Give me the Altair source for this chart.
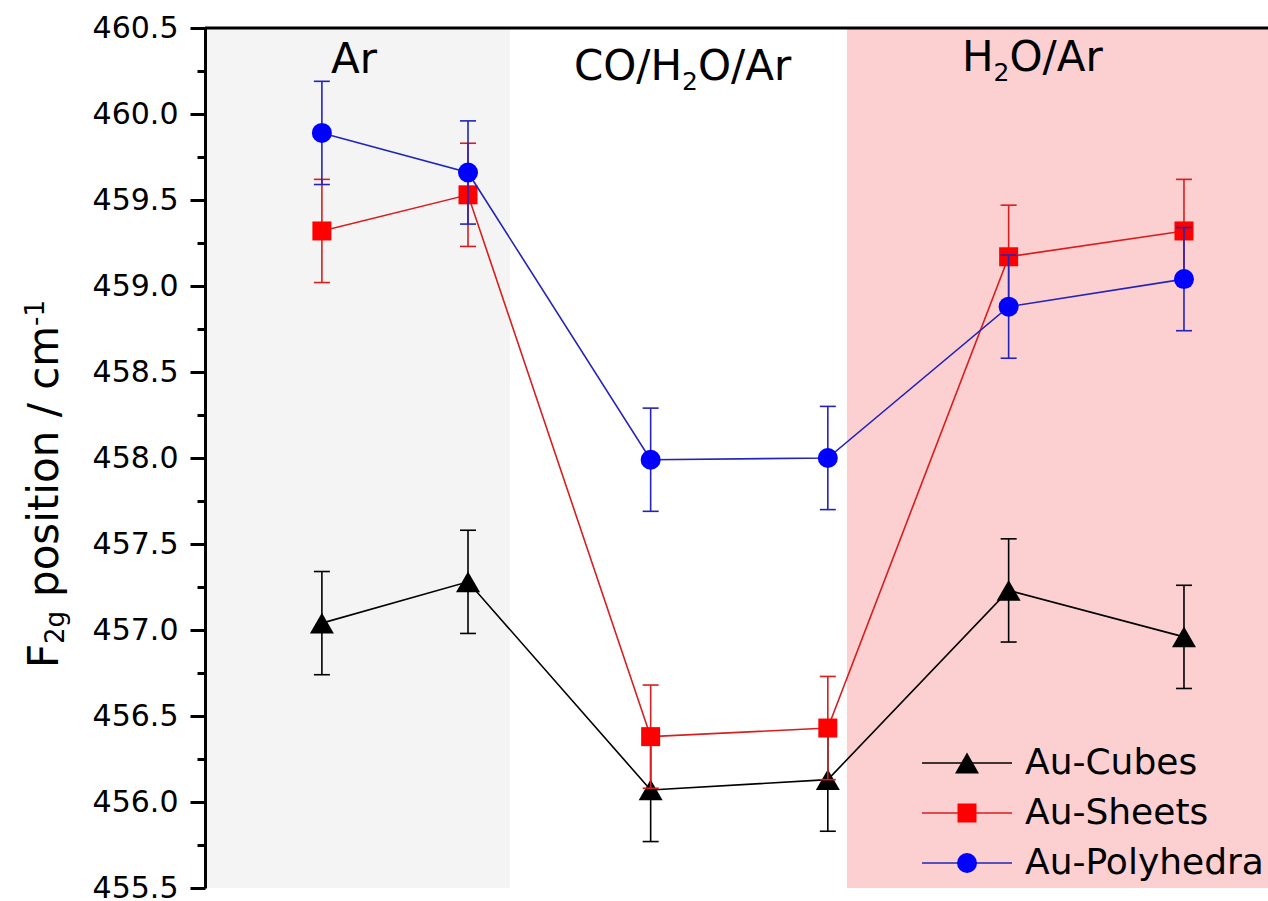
import altair as alt
import pandas as pd

# ---------------- data ----------------
x_pos = [1.0, 1.8, 2.8, 3.77, 4.76, 5.72]
cubes = [457.04, 457.28, 456.07, 456.13, 457.23, 456.96]
cubes_err = [0.30, 0.30, 0.30, 0.30, 0.30, 0.30]
sheets = [459.32, 459.53, 456.38, 456.43, 459.17, 459.32]
sheets_err = [0.30, 0.30, 0.30, 0.30, 0.30, 0.30]
poly = [459.89, 459.66, 457.99, 458.00, 458.88, 459.04]
poly_err = [0.30, 0.30, 0.30, 0.30, 0.30, 0.30]
series_names = ["Au-Cubes", "Au-Sheets", "Au-Polyhedra"]

region_names = ["Ar", "CO/H2O/Ar", "H2O/Ar"]
region_start = [0.36, 2.03, 3.875]
region_end = [2.03, 3.875, 6.18]
region_label_x = [1.176, 2.977, 4.888]
region_label_y = [460.24, 460.20, 460.25]

x_domain = [0.36, 6.18]
y_domain = [455.5, 460.5]
y_major = [455.5, 456.0, 456.5, 457.0, 457.5, 458.0, 458.5, 459.0, 459.5, 460.0, 460.5]
y_minor = [455.75, 456.25, 456.75, 457.25, 457.75, 458.25, 458.75, 459.25, 459.75, 460.25]

# ---------------- style / layout ----------------
FONT = "DejaVu Sans"
W, H = 1063, 860
marker_colors = ["#000000", "#ff0000", "#0000ff"]
line_colors = ["#000000", "#d81e1e", "#2424b8"]
shapes = ["triangle-up", "square", "circle"]
msizes = [576, 361, 400]
region_fill = ["#f4f4f4", "#ffffff", "#fccfd0"]

xs = alt.Scale(domain=x_domain, nice=False, zero=False)
ys = alt.Scale(domain=y_domain, nice=False, zero=False)

x_axis = alt.Axis(title=None, labels=False, ticks=False, grid=False, domain=True,
                  domainColor="black", domainWidth=3, zindex=1)
y_axis_major = alt.Axis(values=y_major, format=".1f", orient="left", title=None, grid=False,
                        tickSize=15, tickWidth=3, tickColor="black", domainWidth=3,
                        domainColor="black", labelFont=FONT, labelFontSize=30,
                        labelColor="black", labelPadding=12, labelFlush=False,
                        labelOverlap=False, zindex=1)
y_axis_minor = alt.Axis(values=y_minor, orient="left", title=None, grid=False, labels=False,
                        domain=False, tickSize=8, tickWidth=3, tickColor="black", zindex=1)

layers = []

# background regions
reg_df = pd.DataFrame({"name": region_names, "start": region_start, "end": region_end,
                       "lx": region_label_x, "ly": region_label_y})
layers.append(
    alt.Chart(reg_df).mark_rect().encode(
        x=alt.X("start:Q", scale=xs, axis=x_axis),
        x2="end:Q",
        y=alt.value(0), y2=alt.value(H),
        color=alt.Color("name:N", scale=alt.Scale(domain=region_names, range=region_fill), legend=None),
    )
)

# top border
top_df = pd.DataFrame({"x": [x_domain[0]], "x2": [x_domain[1]], "y": [y_domain[1]]})
layers.append(
    alt.Chart(top_df).mark_rule(color="black", strokeWidth=3).encode(
        x=alt.X("x:Q", scale=xs, axis=None), x2="x2:Q",
        y=alt.Y("y:Q", scale=ys, axis=y_axis_major),
    )
)

# minor ticks axis (invisible carrier)
minor_df = pd.DataFrame({"v": y_minor})
layers.append(
    alt.Chart(minor_df).mark_point(opacity=0).encode(
        x=alt.value(0),
        y=alt.Y("v:Q", scale=ys, axis=y_axis_minor),
    )
)

# region labels, built from pieces so that the subscript 2 is large and lowered
# (text, font size, dx from label centre, dy)
label_pieces = {
    "Ar": [("Ar", 42, -23, 0)],
    "CO/H2O/Ar": [("CO/H", 42, -109, 0), ("2", 25, -1, 10), ("O/Ar", 42, 15, 0)],
    "H2O/Ar": [("H", 42, -70, 0), ("2", 25, -38.5, 10), ("O/Ar", 42, -22.5, 0)],
}
for i, name in enumerate(region_names):
    one = reg_df.iloc[[i]]
    for txt, fs, ddx, ddy in label_pieces[name]:
        layers.append(
            alt.Chart(one).mark_text(font=FONT, fontSize=fs, align="left", baseline="alphabetic",
                                     color="black", dx=ddx, dy=ddy, text=txt).encode(
                x=alt.X("lx:Q", scale=xs, axis=None),
                y=alt.Y("ly:Q", scale=ys, axis=None),
            )
        )

# series
all_vals = [cubes, sheets, poly]
all_errs = [cubes_err, sheets_err, poly_err]
for i, name in enumerate(series_names):
    df = pd.DataFrame({"x": x_pos, "y": all_vals[i]})
    df["lo"] = [v - e for v, e in zip(all_vals[i], all_errs[i])]
    df["hi"] = [v + e for v, e in zip(all_vals[i], all_errs[i])]
    caps = pd.DataFrame({"x": x_pos + x_pos, "y": list(df["lo"]) + list(df["hi"])})
    lc = line_colors[i]
    layers.append(
        alt.Chart(df).mark_line(color=lc, strokeWidth=1.6).encode(
            x=alt.X("x:Q", scale=xs, axis=None), y=alt.Y("y:Q", scale=ys, axis=None))
    )
    layers.append(
        alt.Chart(df).mark_rule(color=lc, strokeWidth=1.6).encode(
            x=alt.X("x:Q", scale=xs, axis=None), y=alt.Y("lo:Q", scale=ys, axis=None), y2="hi:Q")
    )
    layers.append(
        alt.Chart(caps).mark_rule(color=lc, strokeWidth=1.6, xOffset=-8, x2Offset=8).encode(
            x=alt.X("x:Q", scale=xs, axis=None), x2="x:Q", y=alt.Y("y:Q", scale=ys, axis=None))
    )
    layers.append(
        alt.Chart(df).mark_point(shape=shapes[i], size=msizes[i], filled=True, opacity=1,
                                 fill=marker_colors[i], strokeWidth=0).encode(
            x=alt.X("x:Q", scale=xs, axis=None), y=alt.Y("y:Q", scale=ys, axis=None))
    )

# manual legend
legend_rows_y = [735, 785, 835]
for i, name in enumerate(series_names):
    one = pd.DataFrame({"name": [name]})
    yy = legend_rows_y[i]
    layers.append(
        alt.Chart(one).mark_rule(color=line_colors[i], strokeWidth=1.6).encode(
            x=alt.value(717), x2=alt.value(807), y=alt.value(yy))
    )
    layers.append(
        alt.Chart(one).mark_point(shape=shapes[i], size=msizes[i], filled=True, opacity=1,
                                  fill=marker_colors[i], strokeWidth=0).encode(
            x=alt.value(762), y=alt.value(yy))
    )
    layers.append(
        alt.Chart(one).mark_text(font=FONT, fontSize=36, align="left", baseline="middle",
                                 color="black").encode(
            x=alt.value(820), y=alt.value(yy), text="name:N")
    )

# y-axis title built from pieces (subscript / superscript)
title_pieces = [
    ("F", 42, -147, 640),
    ("2g", 26, -141, 616),
    ("position / cm", 42, -147, 569),
    ("-1", 26, -161, 298),
]
for txt, fs, px, py in title_pieces:
    one = pd.DataFrame({"t": [txt]})
    layers.append(
        alt.Chart(one).mark_text(font=FONT, fontSize=fs, angle=270, align="left",
                                 baseline="alphabetic", color="black").encode(
            x=alt.value(px), y=alt.value(py), text="t:N")
    )

chart = alt.layer(*layers).resolve_axis(y="independent").properties(
    width=W, height=H,
    autosize=alt.AutoSizeParams(type="none"),
    padding={"left": 205, "top": 28, "right": 0, "bottom": 13},
    background="white",
).configure_view(strokeWidth=0)

chart.save("out.html", embed_options={"renderer": "svg", "actions": False})
